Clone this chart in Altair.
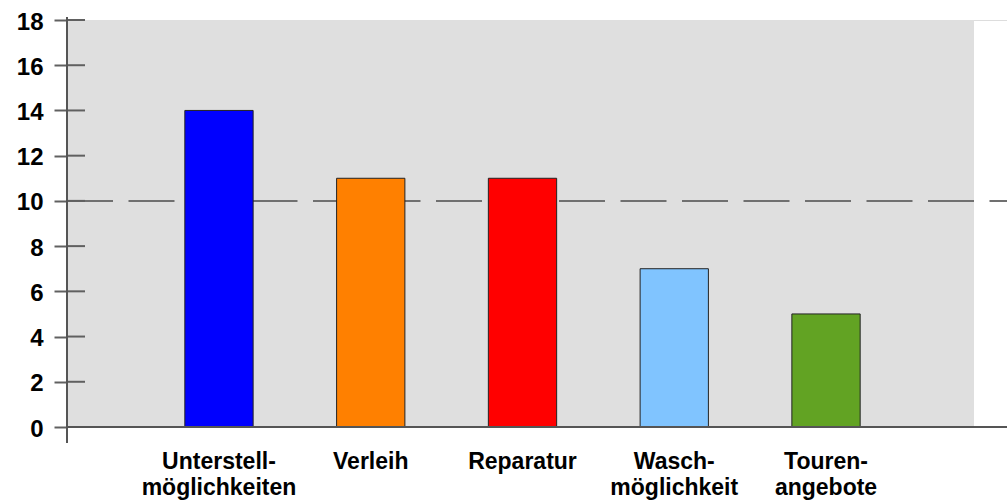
import altair as alt
import pandas as pd

# Kategorien (Zeilenumbruch im Label über "|") und Nennungen
categories = ["Unterstell-|möglichkeiten", "Verleih", "Reparatur", "Wasch-|möglichkeit", "Touren-|angebote"]
values = [14, 11, 11, 7, 5]
colors = ["#0000FF", "#FF8000", "#FF0000", "#80C4FF", "#62A323"]

y_ticks = [0, 2, 4, 6, 8, 10, 12, 14, 16, 18]
reference_value = 10
y_max = 18

FONT = "Liberation Sans"
W, H = 940, 407

bars_df = pd.DataFrame({"kategorie": categories, "anzahl": values, "farbe": colors})
ticks_df = pd.DataFrame({"t": y_ticks})
ref_df = pd.DataFrame({"v": [reference_value]})
frame_df = pd.DataFrame({"oben": [y_max], "unten": [0]})

y_scale = alt.Scale(domain=[0, y_max], nice=False, zero=True)
y_axis = alt.Axis(
    title=None, values=y_ticks, domain=False, grid=False,
    ticks=True, tickSize=13, tickWidth=2, tickColor="#606060",
    labelFont=FONT, labelFontWeight="bold", labelFontSize=24,
    labelColor="#000000", labelPadding=11, labelOffset=2,
)


def y_enc(field):
    return alt.Y(field, scale=y_scale, axis=y_axis, title=None)


# grauer Hintergrund des Diagrammbereichs
background = alt.Chart(frame_df).mark_rect(color="#DFDFDF").encode(
    x=alt.value(1), x2=alt.value(907),
    y=y_enc("oben:Q"), y2="unten:Q",
)

# gestrichelte Referenzlinie
ref_line = alt.Chart(ref_df).mark_rule(
    color="#707070", strokeWidth=2, strokeDash=[46, 15.5]
).encode(
    x=alt.value(0), x2=alt.value(W),
    y=y_enc("v:Q"),
)

bars = alt.Chart(bars_df).mark_bar(stroke="#222222", strokeWidth=1).encode(
    x=alt.X(
        "kategorie:N",
        sort=None,
        scale=alt.Scale(range=[2.5, 908.5], paddingInner=0.55, paddingOuter=0.76),
        axis=alt.Axis(
            title=None, labelAngle=0, domain=False, ticks=False,
            labelExpr="split(datum.label, '|')",
            labelFont=FONT, labelFontWeight="bold", labelFontSize=23,
            labelColor="#000000", labelPadding=23, labelLineHeight=26,
            labelBaseline="top",
        ),
    ),
    y=y_enc("anzahl:Q"),
    color=alt.Color("farbe:N", scale=None, legend=None),
)

# Teilstriche, die in den Diagrammbereich hineinragen
inner_ticks = alt.Chart(ticks_df).mark_rule(color="#606060", strokeWidth=2).encode(
    x=alt.value(0), x2=alt.value(18),
    y=y_enc("t:Q"),
)

# Achsenlinien
x_axis_line = alt.Chart(frame_df).mark_rule(color="#555555", strokeWidth=2).encode(
    x=alt.value(0), x2=alt.value(W),
    y=y_enc("unten:Q"),
)
y_axis_line = alt.Chart(frame_df).mark_rule(
    color="#555555", strokeWidth=2, yOffset=-3, y2Offset=16
).encode(
    x=alt.value(0),
    y=y_enc("oben:Q"), y2="unten:Q",
)

chart = alt.layer(
    background, ref_line, bars, inner_ticks, x_axis_line, y_axis_line
).properties(
    width=W, height=H,
    autosize=alt.AutoSizeParams(type="none"),
    padding={"left": 67, "top": 20, "right": 0, "bottom": 76},
).configure_view(stroke=None).configure(background="#FFFFFF")

chart.save("out.html", embed_options={"renderer": "svg", "actions": False})
